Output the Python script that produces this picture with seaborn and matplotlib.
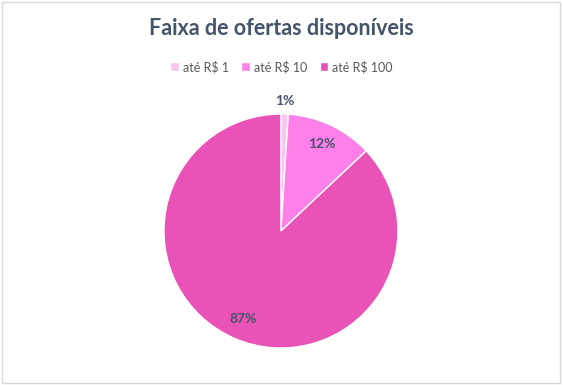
import matplotlib
matplotlib.use("Agg")
import matplotlib.pyplot as plt
import seaborn as sns
from matplotlib.patches import Rectangle

# Data
categories = ["até R$ 1", "até R$ 10", "até R$ 100"]
shares = [1, 12, 87]
colors = ["#F9C6EF", "#FF80E9", "#E952B6"]

sns.set_theme(style="white")
plt.rcParams['font.family'] = ['Lato', 'DejaVu Sans']

text_color = "#44546A"

fig = plt.figure(figsize=(5.63, 3.85), dpi=100)
fig.patch.set_facecolor("white")

# Thin frame around the chart area
fig.add_artist(Rectangle((0.004, 0.006), 0.99, 0.988, transform=fig.transFigure,
                         fill=False, edgecolor="#D9D9D9", linewidth=1.0))

ax = fig.add_axes([0.499 - 0.2078, 0.4 - 0.304, 0.4156, 0.608])
wedges, texts, autotexts = ax.pie(
    shares, colors=colors, startangle=90, counterclock=False,
    autopct="%1.0f%%", pctdistance=0.82,
    wedgeprops=dict(edgecolor="white", linewidth=1.0),
    textprops=dict(color=text_color, fontsize=10, fontweight="bold"),
)
ax.set_aspect("equal")
ax.set_xlim(-1, 1)
ax.set_ylim(-1, 1)

# Smallest slice label sits outside the pie
x, y = autotexts[0].get_position()
autotexts[0].set_position((x * 1.11 / 0.82, y * 1.11 / 0.82))
autotexts[0].set_clip_on(False)

fig.text(0.499, 0.927, "Faixa de ofertas disponíveis", ha="center", va="center",
         fontsize=15.5, fontweight="bold", color=text_color)

fig.legend(wedges, categories, loc="center", bbox_to_anchor=(0.5, 0.826),
           ncol=3, frameon=False, fontsize=9, handlelength=0.7, handleheight=0.7,
           handletextpad=0.3, columnspacing=1.0, labelcolor="#595959")

fig.savefig("out.png", dpi=100)
